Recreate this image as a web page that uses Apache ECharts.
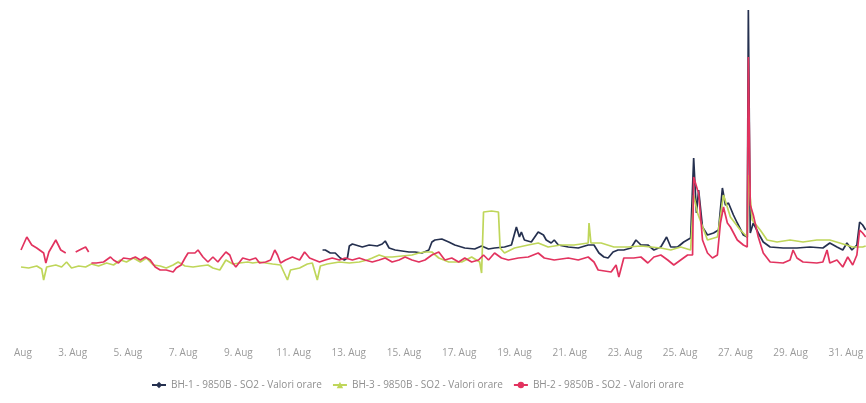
<!DOCTYPE html>
<html style="height: 100%">
<head>
	<meta charset="utf-8">
</head>
<body style="height: 100%; margin: 0; background: #fff">
<div id="container" style="width: 866px; height: 403px"></div>
<script type="text/javascript" src="https://cdn.jsdelivr.net/npm/echarts@6/dist/echarts.min.js"></script>
<script type="text/javascript">
    // x = days since 1 Aug 00:00, y = SO2 hourly value
    var seriesNames = [
        'BH-1 - 9850B - SO2 - Valori orare',
        'BH-3 - 9850B - SO2 - Valori orare',
        'BH-2 - 9850B - SO2 - Valori orare'
    ];

    var bh1 = [
        [11.05,45],[11.15,45],[11.33,43.5],[11.51,43.5],[11.69,41],[11.84,40],[11.95,41],[12.02,47],[12.13,48],
        [12.49,46.5],[12.74,47.5],[13.03,47],[13.21,48],[13.32,49.5],[13.46,46],[13.68,45],[13.93,44.5],[14.18,44],
        [14.40,44],[14.65,43.5],[14.90,45],[15.01,49],[15.12,50],[15.37,50.5],[15.62,49],[15.84,47.5],[16.20,46],
        [16.56,45.5],[16.81,47],[17.06,45.5],[17.28,46],[17.64,46.5],[17.89,47.5],[18.07,56.5],[18.18,51.5],[18.25,54],
        [18.36,50],[18.61,49],[18.86,54],[19.05,52.5],[19.15,50],[19.33,48.5],[19.44,50],[19.59,47.5],[19.95,46.5],
        [20.31,46],[20.67,47.5],[20.88,47.5],[21.06,43.5],[21.24,41.5],[21.39,41],[21.57,44],[21.75,45],[21.96,45],
        [22.22,46],[22.40,50],[22.58,47.5],[22.83,47.5],[23.05,45],[23.30,46.5],[23.51,51.5],[23.66,46.5],[23.91,46.5],
        [24.13,49],[24.38,51],[24.49,91],[24.59,63.5],[24.67,75],[24.81,56.5],[24.99,52.5],[25.21,53.5],[25.39,55],
        [25.53,76],[25.64,67.5],[25.75,68.5],[25.93,62.5],[26.07,58.5],[26.29,52.5],[26.43,51.5],[26.47,165],[26.54,53.5],
        [26.65,58.5],[26.83,53.5],[27.01,49],[27.26,46.5],[27.73,46],[28.23,46],[28.70,46.5],[29.17,46],[29.42,48.5],
        [29.68,46.5],[29.89,45],[30.04,48.5],[30.22,45],[30.40,47.5],[30.50,59],[30.61,57.5],[30.72,55]
    ];

    var bh3 = [
        [0.13,36.5],[0.41,36],[0.70,37],[0.88,35.5],[0.95,30],[1.06,36.5],[1.39,37.5],[1.60,36.5],[1.78,39],[1.96,36],
        [2.22,37],[2.47,36.5],[2.68,38],[2.94,37],[3.23,38.5],[3.48,37.5],[3.73,40],[3.95,39],[4.20,41],[4.45,39],
        [4.67,41],[4.92,37.5],[5.17,37],[5.39,36],[5.64,37.5],[5.82,39],[6.07,37],[6.36,36.5],[6.61,37],[6.90,37.5],
        [7.08,36],[7.33,35],[7.55,40],[7.80,38],[8.05,38.5],[8.34,39],[8.52,38.5],[8.77,39],[8.99,38.5],[9.24,38],
        [9.53,37.5],[9.78,30],[9.89,35],[10.22,36],[10.50,38],[10.68,38.5],[10.86,30],[10.97,37],[11.22,38],[11.66,39],
        [12.02,38.5],[12.38,39],[12.67,40],[12.85,41],[13.10,42.5],[13.32,41.5],[13.57,41.5],[13.93,42],[14.29,42.5],
        [14.54,43.5],[14.76,44],[15.01,44],[15.26,41],[15.62,39],[16.09,39],[16.45,41.5],[16.74,39],[16.81,33.5],
        [16.88,64],[17.17,64.5],[17.42,64],[17.48,46],[17.64,43.5],[18.00,46],[18.50,47.5],[18.86,48.5],[19.22,46.5],
        [19.68,47.5],[20.16,47.5],[20.67,48.5],[20.70,58.5],[20.77,48.5],[21.14,48.5],[21.60,46.5],[22.11,46.5],
        [22.58,47],[22.94,46.5],[23.30,46],[23.66,45],[24.02,46.5],[24.38,45],[24.49,72.5],[24.63,63.5],[24.99,50],
        [25.35,51.5],[25.57,72.5],[25.82,61.5],[26.18,55],[26.43,51.5],[26.47,82.5],[26.61,60],[26.90,55],[27.15,50],
        [27.51,49],[27.98,50],[28.45,49],[28.95,50],[29.42,50],[29.78,48.5],[30.25,46.5],[30.61,46.5],[30.72,47]
    ];

    var bh2 = [
        [0.13,45],[0.34,51.5],[0.52,47.5],[0.70,46],[0.95,43.5],[1.03,38.5],[1.14,44],[1.39,50],[1.57,45],[1.75,43.5],
        [1.90,null],[2.11,44],[2.32,45.5],[2.47,46.5],[2.58,44],[2.63,null],[2.68,38.5],[2.86,38.5],[3.12,39],
        [3.37,41.5],[3.48,40],[3.66,38.5],[3.84,41],[4.09,40.5],[4.27,41.5],[4.45,40],[4.63,41.5],[4.81,40],[4.99,36.5],
        [5.17,35],[5.39,35],[5.64,34],[5.75,36],[5.93,37.5],[6.07,41],[6.18,43.5],[6.43,43.5],[6.54,45],[6.72,41.5],
        [6.90,39],[7.08,41.5],[7.26,39],[7.37,41],[7.55,44],[7.69,42.5],[7.80,38.5],[7.91,36.5],[8.16,41],[8.41,40],
        [8.63,41],[8.77,38.5],[8.99,39],[9.17,40],[9.32,45],[9.42,42.5],[9.53,38.5],[9.71,40],[9.96,41.5],[10.22,40],
        [10.40,44],[10.58,41],[10.76,40],[10.94,39],[11.15,40],[11.40,41],[11.66,40],[11.87,41],[12.13,40],[12.38,41],
        [12.59,40],[12.85,39],[13.10,40],[13.32,41],[13.57,39],[13.82,40],[14.04,41.5],[14.29,40],[14.54,39],[14.76,40],
        [15.01,42.5],[15.26,44],[15.48,40],[15.73,41],[15.98,39],[16.20,41],[16.45,39],[16.70,40],[16.88,42.5],
        [17.06,40],[17.28,43.5],[17.53,41],[17.78,40],[18.14,41],[18.50,41.5],[18.86,43.5],[19.08,41],[19.44,40],
        [19.95,41],[20.31,40],[20.67,41.5],[20.88,39],[21.03,35],[21.50,34],[21.68,37.5],[21.78,31.5],[21.96,41],
        [22.32,41],[22.58,41.5],[22.83,38.5],[23.05,41.5],[23.30,42.5],[23.55,40],[23.77,37.5],[24.02,40],[24.27,42.5],
        [24.45,42.5],[24.49,81.5],[24.63,75],[24.67,73.5],[24.81,50],[24.99,43.5],[25.17,41],[25.35,42.5],[25.46,58.5],
        [25.57,66.5],[25.71,58.5],[25.82,56.5],[26.07,50],[26.29,47.5],[26.43,46.5],[26.47,141.5],[26.54,67.5],
        [26.65,62.5],[26.83,51.5],[27.01,43.5],[27.26,39],[27.73,38.5],[27.98,40],[28.09,45],[28.23,41],[28.45,39],
        [28.95,38.5],[29.17,39],[29.32,45],[29.42,38.5],[29.68,40],[29.89,36.5],[30.07,41.5],[30.25,37.5],[30.40,42.5],
        [30.50,55],[30.61,53.5],[30.72,51.5]
    ];

    var colors = ['#25304f', '#bfd65a', '#e2335f'];
    var symbols = ['diamond', 'triangle', 'circle'];
    var seriesData = [bh1, bh3, bh2];

    var dom = document.getElementById("container");
    var myChart = echarts.init(dom);

    var series = [];
    for (var i = 0; i < seriesData.length; i++) {
        series.push({
            name: seriesNames[i],
            type: 'line',
            data: seriesData[i],
            symbol: symbols[i],
            symbolSize: 7,
            showSymbol: false,
            connectNulls: false,
            lineStyle: {width: 1.7, color: colors[i]},
            itemStyle: {color: colors[i]}
        });
    }

    var option = {
        animation: false,
        backgroundColor: '#fff',
        grid: {left: 13.5, right: 0, top: 10, bottom: 63},
        legend: {
            bottom: 8,
            left: 146,
            itemGap: 10,
            itemWidth: 14,
            itemHeight: 8,
            textStyle: {color: '#8f8f8f', fontSize: 10, fontFamily: 'Open Sans'},
            data: seriesNames
        },
        xAxis: {
            type: 'value',
            min: 0,
            max: 30.72,
            interval: 2,
            axisLine: {show: false},
            axisTick: {show: false},
            splitLine: {show: false},
            axisLabel: {
                showMaxLabel: false,
                color: '#9a9a9a',
                fontSize: 10,
                fontFamily: 'Open Sans',
                margin: 8,
                formatter: function (v) {
                    if (v === 0) return '{h|1. }Aug';
                    return (v + 1) + '. Aug';
                },
                rich: {h: {color: 'rgba(0,0,0,0)', fontSize: 10, fontFamily: 'Open Sans'}}
            }
        },
        yAxis: {
            type: 'value',
            min: 0,
            max: 165,
            show: false,
            splitLine: {show: false}
        },
        series: series
    };

    myChart.setOption(option);
</script>
</body>
</html>
